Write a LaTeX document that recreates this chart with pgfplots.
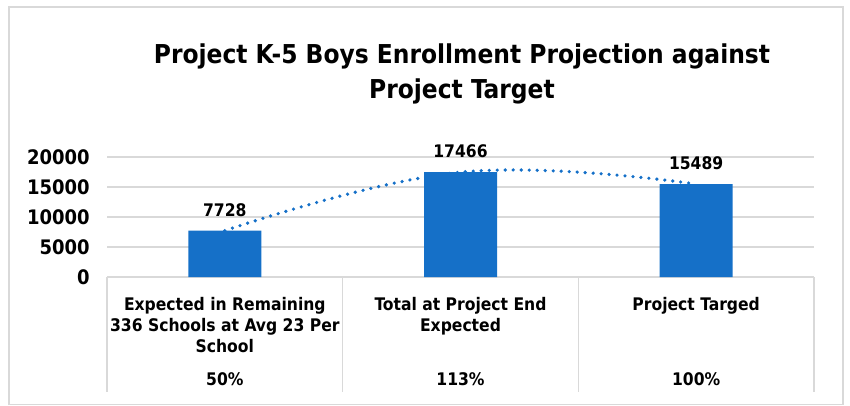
\documentclass[border=0pt]{standalone}
\usepackage{pgfplots}
\pgfplotsset{compat=1.18}
\usepackage{fontspec}
\setmainfont{DejaVu Sans Condensed}[BoldFont={DejaVu Sans Condensed Bold}]
\definecolor{barblue}{HTML}{1570C8}
\definecolor{gridgray}{HTML}{D9D9D9}
\definecolor{framegray}{HTML}{D9D9D9}
\begin{document}
\begin{tikzpicture}[x=0.75pt,y=0.75pt]
\path[use as bounding box] (0,0) rectangle (850,405);
\draw[framegray,line width=1.5pt] (9,0) -- (9,398) -- (843,398) -- (843,0);
\draw[framegray,line width=0.75pt] (9,1) -- (843,1);
\node[align=center,font=\bfseries\fontsize{19.5}{26}\selectfont,anchor=center] at (462,331) {Project K-5 Boys Enrollment Projection against\\Project Target};
\begin{axis}[
  at={(80.25pt,96pt)}, anchor=origin,
  scale only axis, width=530.25pt, height=90pt,
  xmin=0.5, xmax=3.5, ymin=0, ymax=20000,
  ytick={0,5000,10000,15000,20000},
  scaled y ticks=false,
  xtick=\empty,
  ymajorgrids, grid style={gridgray,line width=0.9pt},
  axis line style={draw=none},
  major tick length=0pt,
  yticklabel style={font=\bfseries\fontsize{15}{17}\selectfont, xshift=-9.5pt},
  /pgf/number format/assume math mode=true,
  /pgf/number format/1000 sep={},
  clip=false,
]
\addplot[ybar, bar width=54.75pt, fill=barblue, draw=none,
  nodes near coords, nodes near coords style={font=\bfseries\fontsize{13}{15}\selectfont, anchor=south, yshift=7pt, text=black},
  point meta=y]
  coordinates {(1,7728) (2,17466) (3,15489)};
\addplot[barblue, line width=2.7pt, dash pattern=on 0pt off 6pt, line cap=round, smooth, tension=0.7]
  coordinates {(1,7728) (2,17466) (3,15489)};
\pgfplotsinvokeforeach{0.5,1.5,2.5,3.5}{
  \draw[gridgray,line width=1.2pt] (axis cs:#1,0) -- ([yshift=-86.25pt]axis cs:#1,0);
}
\node[align=center,anchor=north,font=\bfseries\fontsize{13}{16}\selectfont] at (axis cs:1,0) [yshift=-11.5pt] {Expected in Remaining\\336 Schools at Avg 23 Per\\School};
\node[align=center,anchor=north,font=\bfseries\fontsize{13}{16}\selectfont] at (axis cs:2,0) [yshift=-11.5pt] {Total at Project End\\Expected};
\node[align=center,anchor=north,font=\bfseries\fontsize{13}{16}\selectfont] at (axis cs:3,0) [yshift=-11.5pt] {Project Targed};
\node[anchor=base,font=\bfseries\fontsize{13}{16}\selectfont] at (axis cs:1,0) [yshift=-81.5pt] {50\%};
\node[anchor=base,font=\bfseries\fontsize{13}{16}\selectfont] at (axis cs:2,0) [yshift=-81.5pt] {113\%};
\node[anchor=base,font=\bfseries\fontsize{13}{16}\selectfont] at (axis cs:3,0) [yshift=-81.5pt] {100\%};
\end{axis}
\end{tikzpicture}
\end{document}
